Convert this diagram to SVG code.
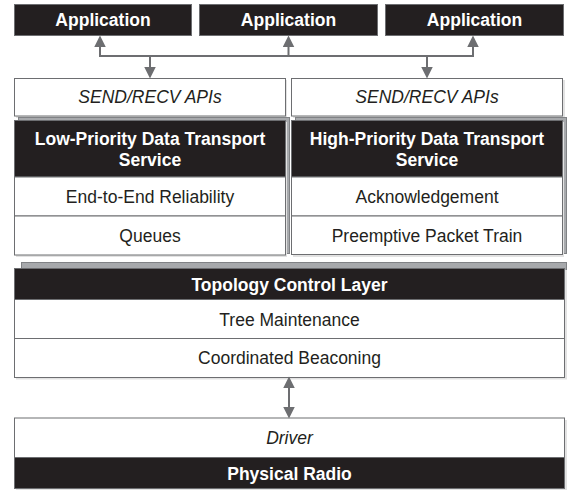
<svg xmlns="http://www.w3.org/2000/svg" width="569" height="491" viewBox="0 0 569 491">
<style>
.t{font-family:"Liberation Sans",Arial,sans-serif;font-size:17.5px;text-anchor:middle}
.b{font-weight:bold;fill:#fff}
.r{fill:#231f20}
.i{font-style:italic;fill:#231f20}
.blk{fill:#231f20;stroke:#6d6e71;stroke-width:1}
.wht{fill:#fff;stroke:#6d6e71;stroke-width:1}
.back{fill:#a7a9ac;stroke:#808285;stroke-width:1}
.sh{fill:#e2e2e2}
.c{stroke:#6d6e71;stroke-width:2;fill:none}
</style>
<defs>
<marker id="ah" markerUnits="userSpaceOnUse" markerWidth="12" markerHeight="12" viewBox="0 0 11 11" refX="5" refY="5.5" orient="auto-start-reverse">
<path d="M0,0 L11,5.5 L0,11 z" fill="#6d6e71"/>
</marker>
</defs>

<g id="app1">
<rect class="blk" x="14.5" y="4.5" width="177" height="31"/>
<text class="t b" x="103" y="26">Application</text>
</g>
<g id="app2">
<rect class="blk" x="199.5" y="4.5" width="178" height="31"/>
<text class="t b" x="288.5" y="26">Application</text>
</g>
<g id="app3">
<rect class="blk" x="385.5" y="4.5" width="178" height="31"/>
<text class="t b" x="474.5" y="26">Application</text>
</g>

<g id="api-left">
<rect class="sh" x="16" y="80" width="271" height="38"/>
<rect class="wht" x="14.5" y="78.5" width="271" height="37.5"/>
<text class="t i" x="150" y="103">SEND/RECV APIs</text>
</g>
<g id="api-right">
<rect class="sh" x="293" y="80" width="272" height="38"/>
<rect class="wht" x="291.5" y="78.5" width="271" height="37.5"/>
<text class="t i" x="427" y="103">SEND/RECV APIs</text>
</g>

<g id="low-priority">
<rect class="back" x="18.5" y="117.5" width="271" height="136"/>
<rect class="sh" x="16" y="122" width="271" height="135"/>
<rect class="blk" x="14.5" y="120.5" width="271" height="56.5"/>
<text class="t b" x="150" y="144.5">Low-Priority Data Transport</text>
<text class="t b" x="150" y="165.5">Service</text>
<rect class="wht" x="14.5" y="177" width="271" height="39"/>
<text class="t r" x="150" y="203">End-to-End Reliability</text>
<rect class="wht" x="14.5" y="216" width="271" height="39"/>
<text class="t r" x="150" y="241.5">Queues</text>
</g>

<g id="high-priority">
<rect class="back" x="295.5" y="117.5" width="271" height="136"/>
<rect class="sh" x="293" y="122" width="271" height="135"/>
<rect class="blk" x="291.5" y="120.5" width="271" height="56.5"/>
<text class="t b" x="427" y="144.5">High-Priority Data Transport</text>
<text class="t b" x="427" y="165.5">Service</text>
<rect class="wht" x="291.5" y="177" width="271" height="39"/>
<text class="t r" x="427" y="203">Acknowledgement</text>
<rect class="wht" x="291.5" y="216" width="271" height="38.5"/>
<text class="t r" x="427" y="241.5">Preemptive Packet Train</text>
</g>

<g id="topology">
<rect class="back" x="21.5" y="262.5" width="545" height="116"/>
<rect class="sh" x="16" y="270" width="551" height="109.5"/>
<rect class="blk" x="14.5" y="268.5" width="550" height="31"/>
<text class="t b" x="289.5" y="290.5">Topology Control Layer</text>
<rect class="wht" x="14.5" y="299.5" width="550" height="39"/>
<text class="t r" x="289.5" y="325.5">Tree Maintenance</text>
<rect class="wht" x="14.5" y="338.5" width="550" height="39"/>
<text class="t r" x="289.5" y="364">Coordinated Beaconing</text>
</g>

<g id="driver">
<rect class="sh" x="16" y="420" width="551" height="70"/>
<rect class="wht" x="14.5" y="418" width="550" height="39.5"/>
<text class="t i" x="289.5" y="444">Driver</text>
</g>
<g id="physical-radio">
<rect class="blk" x="14.5" y="457.5" width="550" height="31"/>
<text class="t b" x="289.5" y="480">Physical Radio</text>
</g>

<g id="connectors">
<line class="c" x1="100" y1="56" x2="473" y2="56"/>
<line class="c" x1="100" y1="57" x2="100" y2="42" marker-end="url(#ah)"/>
<line class="c" x1="288.5" y1="57" x2="288.5" y2="42" marker-end="url(#ah)"/>
<line class="c" x1="473" y1="57" x2="473" y2="42" marker-end="url(#ah)"/>
<line class="c" x1="150" y1="55" x2="150" y2="72" marker-end="url(#ah)"/>
<line class="c" x1="427" y1="55" x2="427" y2="72" marker-end="url(#ah)"/>
<line class="c" x1="289" y1="383" x2="289" y2="412" marker-start="url(#ah)" marker-end="url(#ah)"/>
</g>
</svg>
